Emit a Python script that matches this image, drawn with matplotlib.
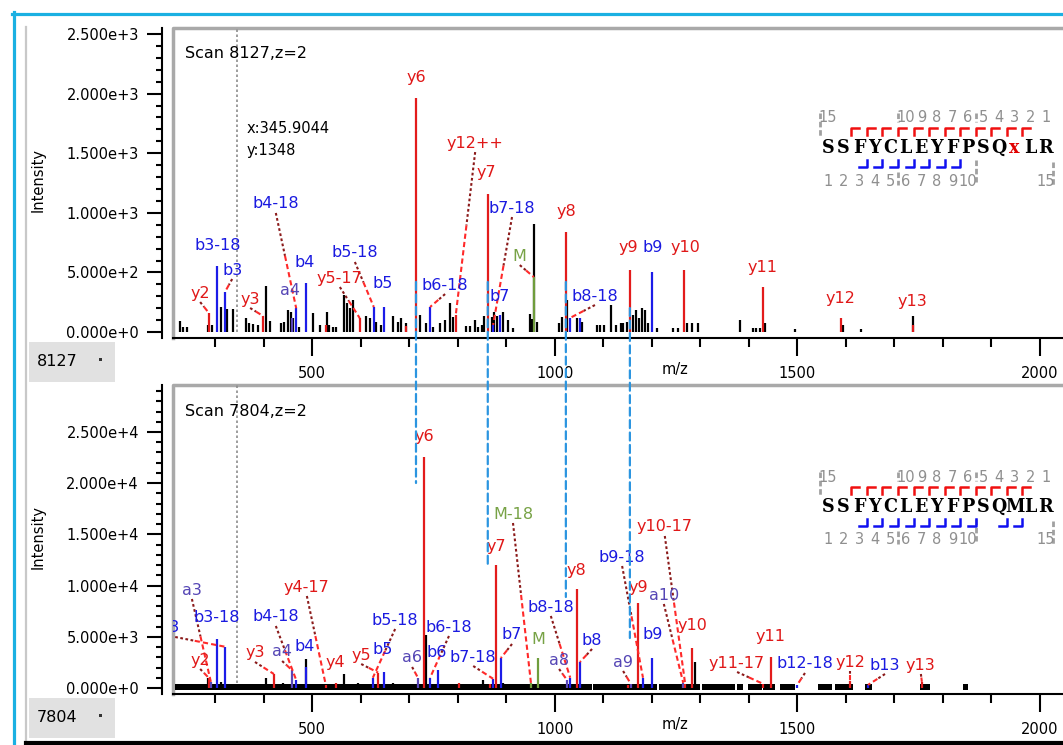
import numpy as np
import matplotlib
matplotlib.use('Agg')
import matplotlib.pyplot as plt
from matplotlib.lines import Line2D
from matplotlib.patches import Rectangle, ConnectionPatch
from matplotlib.ticker import MultipleLocator, FuncFormatter

W, H = 1063, 745

# ---------------- scan 8127 (top) ----------------
top_scan = '8127'
top_seq = 'SSFYCLEYFPSQxLR'
top_mod_idx = 12
top_y_frags = list(range(2, 14))
top_b_frags = list(range(3, 10))

# unannotated peaks
top_peak_mz = [227, 233, 242, 285, 293, 312, 324, 337, 364, 370, 378, 388, 405, 413, 436, 442,
               450, 456, 460, 473, 502, 516, 531, 535, 543, 549, 566, 572, 578, 584, 611, 619,
               632, 642, 667, 677, 683, 693, 722, 735, 749, 764, 774, 784, 790, 817, 825, 836,
               842, 850, 854, 871, 875, 881, 893, 904, 914, 949, 953, 957, 963, 1009, 1015, 1025,
               1046, 1056, 1087, 1093, 1102, 1116, 1126, 1137, 1141, 1149, 1161, 1168, 1174, 1180,
               1186, 1192, 1211, 1244, 1254, 1273, 1283, 1295, 1382, 1409, 1416, 1423, 1434, 1495,
               1594, 1632, 1739]
top_peak_int = [95, 45, 45, 59, 59, 212, 190, 190, 115, 73, 65, 59, 388, 95, 73, 87,
                185, 170, 115, 45, 157, 59, 171, 59, 45, 45, 310, 240, 200, 268, 134, 115,
                87, 59, 134, 87, 115, 73, 143, 73, 45, 73, 100, 240, 125, 50, 50, 100,
                45, 59, 134, 130, 171, 134, 168, 100, 30, 151, 107, 906, 85, 80, 130, 268,
                115, 87, 59, 59, 59, 226, 59, 78, 78, 87, 143, 185, 115, 198,
                185, 73, 30, 30, 30, 78, 78, 78, 100, 30, 30, 30, 78, 25,
                59, 25, 134]

# matched fragment ions
top_ion_mz = [287, 304, 320, 399, 458, 467, 487, 528, 598, 627, 648, 693, 714, 743, 796, 862,
              873, 887, 957, 1023, 1031, 1052, 1155, 1200, 1267, 1429, 1590, 1739]
top_ion_int = [160, 553, 335, 134, 120, 200, 411, 60, 117, 210, 210, 50, 1963, 210, 143, 1158,
               60, 140, 461, 839, 117, 117, 520, 503, 520, 377, 117, 59]
top_ion_label = ['y2', 'b3-18', 'b3', 'y3', 'a4', 'b4-18', 'b4', '', 'y5-17', 'b5-18', 'b5', '',
                 'y6', 'b6-18', 'y12++', 'y7', 'b7-18', 'b7', 'M', 'y8', 'b8-18', '', 'y9', 'b9',
                 'y10', 'y11', 'y12', 'y13']
top_ion_kind = ['y', 'b', 'b', 'y', 'a', 'b', 'b', 'y', 'y', 'b', 'b', 'y', 'y', 'b', 'y', 'y',
                'b', 'b', 'M', 'y', 'b', 'b', 'y', 'b', 'y', 'y', 'y', 'y']

# label placement (m/z, intensity, draw leader line)
top_label_pos = {
    'y2': (269, 327, True), 'b3-18': (306, 730, False), 'b3': (335, 520, True),
    'y3': (372, 277, True), 'b4-18': (425, 1074, True), 'a4': (454, 352, False),
    'b4': (485, 587, False), 'y5-17': (557, 453, True), 'b5-18': (588, 663, True),
    'b5': (646, 411, False), 'y6': (714, 2131, False), 'b6-18': (774, 394, True),
    'y12++': (836, 1585, True), 'y7': (860, 1334, False), 'b7-18': (912, 1040, True),
    'b7': (887, 302, False), 'M': (928, 637, True), 'y8': (1025, 1015, False),
    'b8-18': (1083, 302, True), 'y9': (1151, 705, False), 'b9': (1201, 705, False),
    'y10': (1269, 705, False), 'y11': (1428, 545, False), 'y12': (1590, 285, False),
    'y13': (1737, 252, False),
}

# ---------------- scan 7804 (bottom) ----------------
bot_scan = '7804'
bot_seq = 'SSFYCLEYFPSQMLR'
bot_y_frags = list(range(2, 14))
bot_b_frags = [3, 4, 5, 6, 7, 8, 9, 10, 12, 13]

bot_peak_mz = [285, 312, 405, 440, 487, 566, 594, 667, 735, 852, 893, 1289]
bot_peak_int = [1000, 600, 977, 500, 2830, 1367, 520, 450, 5176, 780, 500, 2540]

# dense low-level signal along the baseline (m/z ranges)
bot_noise_ranges = [(217, 1077), (1079, 1211), (1215, 1300), (1304, 1372), (1376, 1388),
                    (1399, 1427), (1430, 1454), (1464, 1495), (1543, 1572), (1578, 1615),
                    (1640, 1654), (1753, 1774), (1842, 1852)]

bot_ion_mz = [287, 291, 304, 320, 421, 458, 467, 487, 528, 549, 625, 636, 648, 718, 731, 743,
              759, 803, 867, 873, 879, 889, 951, 965, 1025, 1032, 1046, 1052, 1152, 1157, 1172,
              1182, 1200, 1265, 1269, 1283, 1430, 1446, 1500, 1609, 1646, 1757]
bot_ion_int = [977, 600, 4785, 4033, 1367, 1758, 780, 2050, 300, 500, 1000, 1500, 1560, 1000,
               22560, 1000, 1800, 500, 400, 900, 12012, 2930, 500, 2930, 800, 1000, 9668, 2540,
               300, 400, 8300, 1000, 2930, 500, 400, 3900, 400, 3030, 300, 700, 300, 600]
bot_ion_label = ['y2', 'a3', 'b3-18', 'b3', 'y3', 'a4', 'b4-18', 'b4', 'y4-17', 'y4', 'b5-18',
                 'y5', 'b5', 'a6', 'y6', 'b6-18', 'b6', '', '', 'b7-18', 'y7', 'b7', 'M-18', 'M',
                 'a8', 'b8-18', 'y8', 'b8', '', 'a9', 'y9', 'b9-18', 'b9', 'a10', 'y10-17', 'y10',
                 'y11-17', 'y11', 'b12-18', 'y12', 'b13', 'y13']
bot_ion_kind = ['y', 'a', 'b', 'b', 'y', 'a', 'b', 'b', 'y', 'y', 'b', 'y', 'b', 'a', 'y', 'b',
                'b', 'y', 'y', 'b', 'y', 'b', 'M', 'M', 'a', 'b', 'y', 'b', 'y', 'a', 'y', 'b',
                'b', 'a', 'y', 'y', 'y', 'y', 'b', 'y', 'b', 'y']

bot_label_pos = {
    'y2': (269, 2734, True), 'a3': (252, 9570, True), 'b3-18': (304, 6836, False),
    'b3': (207, 5957, True), 'y3': (382, 3418, True), 'a4': (438, 3516, True),
    'b4-18': (425, 6934, True), 'b4': (485, 4004, False), 'y4-17': (489, 9863, True),
    'y4': (547, 2539, False), 'y5': (601, 3222, True), 'b5-18': (671, 6640, True),
    'b5': (646, 3711, False), 'a6': (706, 2930, True), 'y6': (731, 24512, False),
    'b6': (757, 3418, False), 'b6-18': (782, 5957, True), 'b7-18': (832, 3027, True),
    'y7': (879, 13770, False), 'b7': (912, 5176, True), 'M-18': (914, 16992, True),
    'M': (966, 4785, False), 'a8': (1009, 2734, True), 'b8-18': (992, 7910, True),
    'y8': (1044, 11523, False), 'b8': (1077, 4687, True), 'a9': (1141, 2539, True),
    'b9-18': (1139, 12793, True), 'y9': (1172, 9766, False), 'b9': (1201, 5176, False),
    'a10': (1225, 9082, True), 'y10-17': (1227, 15723, True), 'y10': (1285, 6055, False),
    'y11-17': (1376, 2441, True), 'y11': (1444, 5078, False), 'b12-18': (1516, 2344, True),
    'y12': (1609, 2539, True), 'b13': (1681, 2246, True), 'y13': (1755, 2246, True),
}

# cursor readout
cursor_mz = 345.9044
cursor_int = 1348

# peaks matched between the two scans (top m/z) and extent of the guide lines
match_mz = [714, 862, 1023, 1155]
match_top_from = [420, 420, 420, 201]
match_bot_to = [20020, 11719, 8887, 4883]

peak_colors = {'y': '#e31b1b', 'b': '#1c1ce8', 'a': '#5a46b8', 'M': '#6f9d3c'}
label_colors = {'y': '#e01818', 'b': '#1a1ae0', 'a': '#5546b5', 'M': '#77a245'}

fig = plt.figure(figsize=(W / 100, H / 100), dpi=100)
fig.patch.set_facecolor('white')


def ftext(px, py, s, **kw):
    fig.text(px / W, 1 - py / H, s, **kw)


def fline(xs, ys, **kw):
    fig.add_artist(Line2D([x / W for x in xs], [1 - y / H for y in ys],
                          transform=fig.transFigure, **kw))


def sci_fmt(v, pos):
    if v == 0:
        return '0.000e+0'
    e = int(np.floor(np.log10(abs(v)) + 1e-9))
    return f'{v / 10 ** e:.3f}e+{e}'


def make_panel(top_px, bottom_px, ylim, major, minor):
    ax = fig.add_axes([173 / W, 1 - bottom_px / H, (1063 - 173) / W, (bottom_px - top_px) / H])
    ax.set_xlim(213, 2048)
    ax.set_ylim(*ylim)
    for s in ('top', 'right'):
        ax.spines[s].set_visible(False)
    ax.spines['left'].set_position(('outward', 8))
    ax.spines['left'].set_linewidth(1.5)
    ax.spines['bottom'].set_linewidth(1.5)
    # grey bevel frame of the plot area
    ax.plot([0, 0, 1], [0, 1, 1], transform=ax.transAxes, color='#a9a9a9', lw=2.5,
            clip_on=False, zorder=1)
    ax.xaxis.set_major_locator(MultipleLocator(500))
    ax.xaxis.set_minor_locator(MultipleLocator(100))
    ax.yaxis.set_major_locator(MultipleLocator(major))
    ax.yaxis.set_minor_locator(MultipleLocator(minor))
    ax.yaxis.set_major_formatter(FuncFormatter(sci_fmt))
    ax.tick_params(axis='x', which='major', length=13, width=1.5, pad=7, labelsize=10.5)
    ax.tick_params(axis='x', which='minor', length=6.5, width=1.5)
    ax.tick_params(axis='y', which='major', length=10.5, width=1.5, pad=6, labelsize=10.5)
    ax.tick_params(axis='y', which='minor', length=4.5, width=1.5)
    ax.text(0.5635, -31 / (bottom_px - top_px), 'm/z',
            transform=ax.transAxes, ha='center', va='center', fontsize=10.5)
    ax.vlines(cursor_mz, 0, ylim[1], colors='#8c8c8c', lw=1.2, linestyles=(0, (1.5, 1.5)), zorder=2)
    return ax


def link(ax, lx, ly, px, py):
    x0, y0 = ax.transData.transform((lx, ly))
    y0 -= 9
    x1, y1 = ax.transData.transform((px, py))
    xm, ym = x0 + 0.45 * (x1 - x0), y0 + 0.45 * (y1 - y0)
    pts = ax.transData.inverted().transform([(x0, y0), (xm, ym), (x1, y1)])
    ax.plot(pts[:2, 0], pts[:2, 1], color='#8b1a1a', lw=1.5, ls=(0, (1.3, 1.2)), zorder=4)
    ax.plot(pts[1:, 0], pts[1:, 1], color='#ff2a2a', lw=1.5, ls=(0, (2.5, 1.5)), zorder=4)


def draw_ions(ax, mz, inten, labels, kinds, label_pos):
    for m, i, lab, k in zip(mz, inten, labels, kinds):
        ax.vlines(m, 0, i, colors=peak_colors[k], lw=1.6, zorder=3)
        if lab:
            lx, ly, has_link = label_pos[lab]
            ax.text(lx, ly, lab, color=label_colors[k], fontsize=11.5, ha='center', va='center',
                    zorder=5, clip_on=True)
            if has_link:
                link(ax, lx, ly, m, i)


def draw_sequence(seq, cy, y_frags, b_frags, mod_idx=None):
    x0, dx = 828, 15.55
    n = len(seq)
    gray = '#8f8f8f'
    for i, ch in enumerate(seq):
        ftext(x0 + dx * i, cy, ch, ha='center', va='center', fontsize=14, fontweight='bold',
              family='DejaVu Serif', fontstretch='condensed',
              color='#e00000' if i == mod_idx else 'black')
    for k in list(range(1, 11)) + [n]:
        ftext(x0 + dx * (n - k), cy - 30, str(k), ha='center', va='center', fontsize=10.5, color=gray)
        ftext(x0 + dx * (k - 1), cy + 33, str(k), ha='center', va='center', fontsize=10.5, color=gray)
    dash = dict(color='#a0a0a0', lw=2, ls=(0, (2, 1)))
    fline([x0 - dx / 2] * 2, [cy - 35, cy - 10], **dash)
    for b in (4.5, 9.5):
        fline([x0 + dx * b] * 2, [cy - 35, cy - 26], **dash)
    fline([x0 + dx * 4.5] * 2, [cy + 24, cy + 37], **dash)
    fline([x0 + dx * 9.5] * 2, [cy + 12, cy + 34], **dash)
    fline([x0 + dx * 14.5] * 2, [cy + 14, cy + 39], **dash)
    for k in y_frags:
        bx = x0 + dx * (n - k - 0.5)
        fline([bx, bx, bx + 8], [cy - 13, cy - 20, cy - 20], color='#f01010', lw=1.8)
    for k in b_frags:
        bx = x0 + dx * (k - 0.5)
        fline([bx - 8, bx, bx], [cy + 19, cy + 19, cy + 12], color='#1010f0', lw=1.8)


# ---- top panel ----
ax1 = make_panel(28, 338, (-50, 2550), 500, 100)
ax1.vlines(top_peak_mz, 0, top_peak_int, colors='black', lw=1.6, zorder=2)
draw_ions(ax1, top_ion_mz, top_ion_int, top_ion_label, top_ion_kind, top_label_pos)
ax1.text(0.0135, 0.919, f'Scan {top_scan},z=2', transform=ax1.transAxes, fontsize=11.5, va='center')
ax1.text(0.083, 0.677, f'x:{cursor_mz}', transform=ax1.transAxes, fontsize=10.5, va='center')
ax1.text(0.083, 0.606, f'y:{cursor_int}', transform=ax1.transAxes, fontsize=10.5, va='center')

# ---- bottom panel ----
ax2 = make_panel(385, 694, (-586, 29590), 5000, 1000)
ax2.broken_barh([(s, e - s) for s, e in bot_noise_ranges], (-200, 600), facecolors='black', zorder=2)
ax2.vlines(bot_peak_mz, 0, bot_peak_int, colors='black', lw=1.6, zorder=2)
draw_ions(ax2, bot_ion_mz, bot_ion_int, bot_ion_label, bot_ion_kind, bot_label_pos)
ax2.text(0.0135, 0.913, f'Scan {bot_scan},z=2', transform=ax2.transAxes, fontsize=11.5, va='center')

# guide lines linking matched peaks
for m, a, b in zip(match_mz, match_top_from, match_bot_to):
    cp = ConnectionPatch(xyA=(m, a), coordsA=ax1.transData, xyB=(m, b), coordsB=ax2.transData,
                         color='#2b95e0', lw=1.6, linestyle=(0, (3.6, 2)), zorder=6)
    fig.add_artist(cp)

# sequence coverage maps
draw_sequence(top_seq, 148, top_y_frags, top_b_frags, top_mod_idx)
draw_sequence(bot_seq, 507, bot_y_frags, bot_b_frags)

# axis titles and scan selectors
ftext(38, 180, 'Intensity', rotation=90, ha='center', va='center', fontsize=10.5)
ftext(38, 537, 'Intensity', rotation=90, ha='center', va='center', fontsize=10.5)
for scan, y0 in ((top_scan, 342), (bot_scan, 698)):
    fig.add_artist(Rectangle((29 / W, 1 - (y0 + 40) / H), 86 / W, 40 / H,
                             transform=fig.transFigure, facecolor='#e1e1e1', edgecolor='none'))
    ftext(37, y0 + 20, scan, ha='left', va='center', fontsize=11.5)
    fig.add_artist(Rectangle((99 / W, 1 - (y0 + 19) / H), 3 / W, 3 / H,
                             transform=fig.transFigure, facecolor='#333333', edgecolor='none'))

# window chrome
fline([12, 1063], [13.5, 13.5], color='#1ab0e2', lw=2.3)
fline([13.5, 13.5], [12, 745], color='#1ab0e2', lw=2.3)
fline([26, 26], [27, 745], color='#c8c8c8', lw=1.6)
fline([26, 1063], [743, 743], color='black', lw=3)

fig.savefig('out.png', dpi=100)
